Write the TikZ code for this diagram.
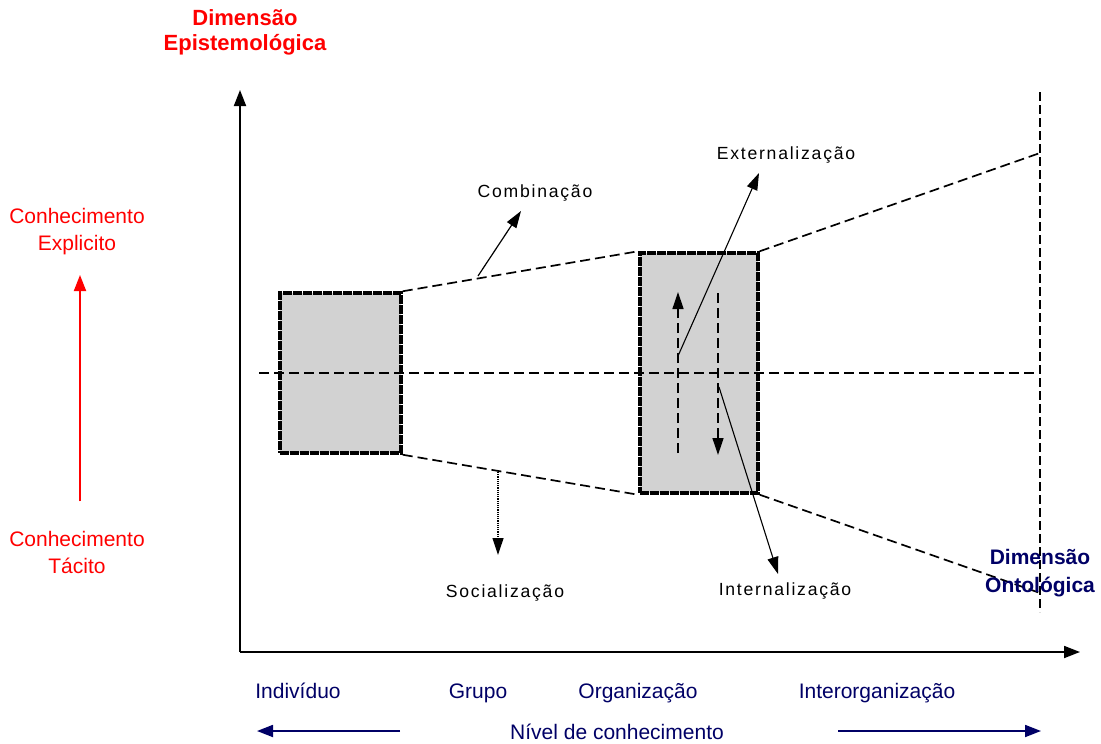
\documentclass[tikz,border=0pt]{standalone}
\usepackage{fontspec}
\setmainfont{Liberation Sans}
\newfontfamily\spacedfont[LetterSpace=10]{Liberation Sans}
\usetikzlibrary{arrows.meta}
\definecolor{navyblue}{RGB}{0,0,102}
\tikzset{
  dshline/.style={dash pattern=on 10pt off 5pt,line width=1.7pt},
  knowbox/.style={fill=gray!35,draw,line width=3.5pt,dash pattern=on 9pt off 1pt,inner sep=0pt},
  bigtip/.style={-{Triangle[length=16pt,width=12pt]}},
  smalltip/.style={-{Triangle[length=17pt,width=11pt]}},
  modelabel/.style={font=\spacedfont\fontsize{17.6}{20}\selectfont},
  redlabel/.style={text=red,align=center,font=\fontsize{21}{27}\selectfont},
  levellabel/.style={text=navyblue,font=\fontsize{21}{25}\selectfont}
}
\begin{document}
\begin{tikzpicture}[x=1pt,y=-1pt]
			\useasboundingbox (0,0) rectangle (1101,744);
			\coordinate (origin) at (240,652);
			\coordinate (ytop) at (240,90);
			\coordinate (xend) at (1080,652);
			\coordinate (limtop) at (1040,92);
			\coordinate (limbot) at (1040,612);
			\coordinate (uppend) at (1040,153);
			\coordinate (lowend) at (1040,593);
			\coordinate (midstart) at (259,373);
			\coordinate (midend) at (1040,373);
			\node [knowbox,minimum width=121pt,minimum height=160pt] (indbox) at (340.5,373) {};
			\node [knowbox,minimum width=118pt,minimum height=240pt] (orgbox) at (699,373) {};
			\draw [dshline] (midstart) -- (midend);
			\draw [dshline] (indbox.north east) -- (orgbox.north west);
			\draw [dshline] (indbox.south east) -- (orgbox.south west);
			\draw [dshline] (orgbox.north east) -- (uppend);
			\draw [dshline] (orgbox.south east) -- (lowend);
			\draw [dash pattern=on 9pt off 4pt,line width=1.3pt] (limtop) -- (limbot);
			\draw [line width=1.8pt,bigtip] (origin) -- (ytop);
			\draw [line width=1.8pt,bigtip] (origin) -- (xend);
			\coordinate (upbot) at (678,453);
			\coordinate (uptop) at (678,292);
			\coordinate (dnbot) at (718,455);
			\coordinate (dntop) at (718,293);
			\draw [dash pattern=on 10pt off 5pt,line width=1.3pt,smalltip] (upbot) -- (uptop);
			\draw [dash pattern=on 10pt off 5pt,line width=1.3pt,smalltip] (dntop) -- (dnbot);
			\node [modelabel] (comb) at (535,193) {Combinação};
			\node [modelabel] (extern) at (786,155) {Externalização};
			\node [modelabel] (social) at (505,593) {Socialização};
			\node [modelabel] (intern) at (785,591) {Internalização};
			\coordinate (combfoot) at (478,276);
			\coordinate (combhead) at (521,211);
			\coordinate (socfoot) at (498,472);
			\coordinate (sochead) at (498,555);
			\coordinate (extfoot) at (678,356);
			\coordinate (exthead) at (759,173);
			\coordinate (intfoot) at (719,387);
			\coordinate (inthead) at (778,574);
			\draw [line width=1.2pt,smalltip] (combfoot) -- (combhead);
			\draw [densely dotted,line width=1.2pt,smalltip] (socfoot) -- (sochead);
			\draw [line width=1.1pt,smalltip] (extfoot) -- (exthead);
			\draw [line width=1.1pt,smalltip] (intfoot) -- (inthead);
			\node [text=red,align=center,font=\bfseries\fontsize{22}{25}\selectfont] (epist) at (245,32) {Dimensão\\Epistemológica};
			\node [text=navyblue,align=center,font=\bfseries\fontsize{21}{28}\selectfont] (onto) at (1040,573) {Dimensão\\Ontológica};
			\node [redlabel] (explic) at (77,232) {Conhecimento\\Explicito};
			\node [redlabel] (tacit) at (77,552) {Conhecimento\\Tácito};
			\draw [red,line width=1.8pt,bigtip] (tacit.north) ++(3,-26) coordinate (redfoot) -- (80,275) coordinate (redhead);
			\node [levellabel] (indiv) at (298,691) {Indivíduo};
			\node [levellabel] (grupo) at (478,693) {Grupo};
			\node [levellabel] (organ) at (638,693) {Organização};
			\node [levellabel] (inter) at (877,693) {Interorganização};
			\node [levellabel] (nivel) at (617,732) {Nível de conhecimento};
			\coordinate (leftfoot) at (400,731);
			\coordinate (lefthead) at (257,731);
			\coordinate (rightfoot) at (838,731);
			\coordinate (righthead) at (1041,731);
			\draw [navyblue,line width=1.8pt,bigtip] (leftfoot) -- (lefthead);
			\draw [navyblue,line width=1.8pt,bigtip] (rightfoot) -- (righthead);
		\end{tikzpicture}
\end{document}
